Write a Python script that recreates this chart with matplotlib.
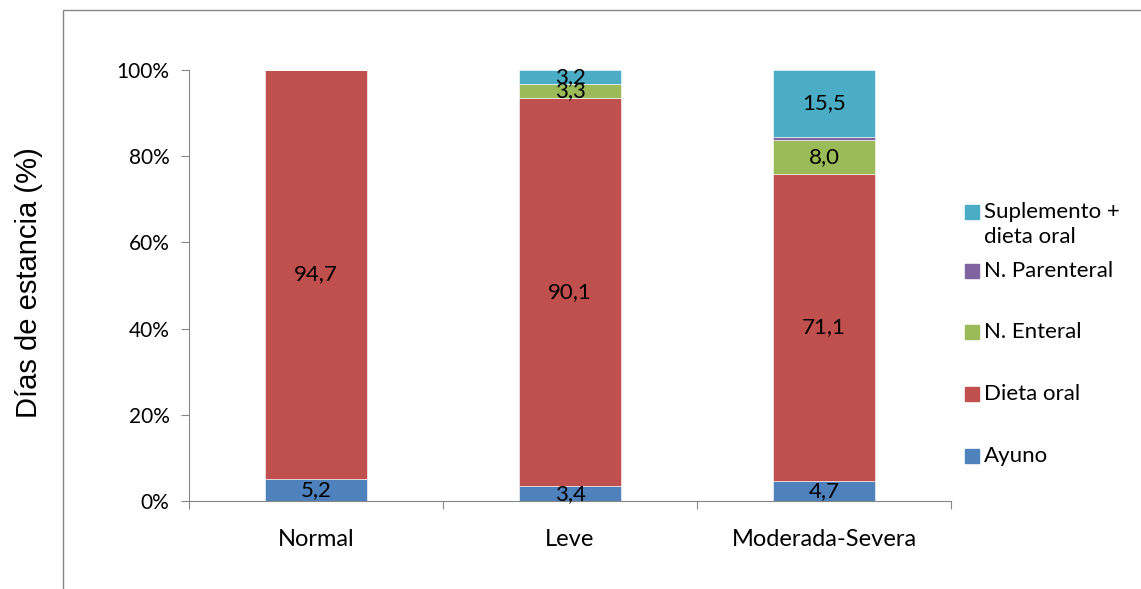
import matplotlib.pyplot as plt
from matplotlib.patches import Rectangle
from matplotlib.ticker import FixedLocator, PercentFormatter

plt.rcParams['font.family'] = ['Lato', 'DejaVu Sans']

categorias = ['Normal', 'Leve', 'Moderada-Severa']
series = ['Ayuno', 'Dieta oral', 'N. Enteral', 'N. Parenteral', 'Suplemento +\ndieta oral']
ayuno = [5.2, 3.4, 4.7]
dieta_oral = [94.7, 90.1, 71.1]
enteral = [0.0, 3.3, 8.0]
parenteral = [0.1, 0.0, 0.7]
suplemento = [0.0, 3.2, 15.5]
colores = ['#4F81BD', '#C0504D', '#9BBB59', '#8064A2', '#4BACC6']

W, H = 1141, 589
fig = plt.figure(figsize=(W / 100, H / 100), dpi=100)
ax = fig.add_axes([189 / W, 1 - 501 / H, (951 - 189) / W, (501 - 70) / H])

# outer chart frame (partly cropped)
fig.add_artist(Rectangle((63 / W, -0.05), 1.2, 1 - 10 / H + 0.05, transform=fig.transFigure,
                         fill=False, edgecolor='#868686', linewidth=1))

x = range(len(categorias))
bottom = [0.0] * len(categorias)
for vals, col in zip([ayuno, dieta_oral, enteral, parenteral, suplemento], colores):
    ax.bar(x, vals, width=0.4, bottom=bottom, color=col, edgecolor='white', linewidth=0.4)
    for i, v in enumerate(vals):
        if v >= 1:
            txt = f'{v:.1f}'.replace('.', ',')
            ax.text(i, bottom[i] + v / 2, txt, ha='center', va='center', fontsize=16, color='black')
    bottom = [b + v for b, v in zip(bottom, vals)]

ax.set_xlim(-0.5, 2.5)
ax.set_ylim(0, 100)
ax.yaxis.set_major_locator(FixedLocator([0, 20, 40, 60, 80, 100]))
ax.yaxis.set_major_formatter(PercentFormatter(decimals=0))
ax.set_xticks([-0.5, 0.5, 1.5, 2.5])
ax.set_xticklabels([])
ax.set_xticks(list(x), minor=True)
ax.set_xticklabels(categorias, minor=True, fontsize=17)
ax.tick_params(axis='x', which='minor', length=0, pad=20)
ax.tick_params(axis='x', which='major', length=6, color='#868686', direction='out')
ax.tick_params(axis='y', length=6, color='#868686', labelsize=15, pad=8)
for s in ['top', 'right']:
    ax.spines[s].set_visible(False)
for s in ['left', 'bottom']:
    ax.spines[s].set_color('#868686')

fig.text(29 / W, 1 - 283 / H, 'Días de estancia (%)', rotation=90, ha='center', va='center',
         fontsize=21, family=['Liberation Sans', 'DejaVu Sans'])

# legend, top to bottom
ley_y = [212, 271, 332, 394, 456]
for lab, col, yy in zip(series[::-1], colores[::-1], ley_y):
    fig.add_artist(Rectangle((965 / W, 1 - (yy + 7) / H), 14 / W, 14 / H,
                             transform=fig.transFigure, color=col))
    for k, linea in enumerate(lab.split('\n')):
        fig.text(984 / W, 1 - (yy + 25 * k) / H, linea, ha='left', va='center', fontsize=16)

fig.savefig('out.png', dpi=100)
